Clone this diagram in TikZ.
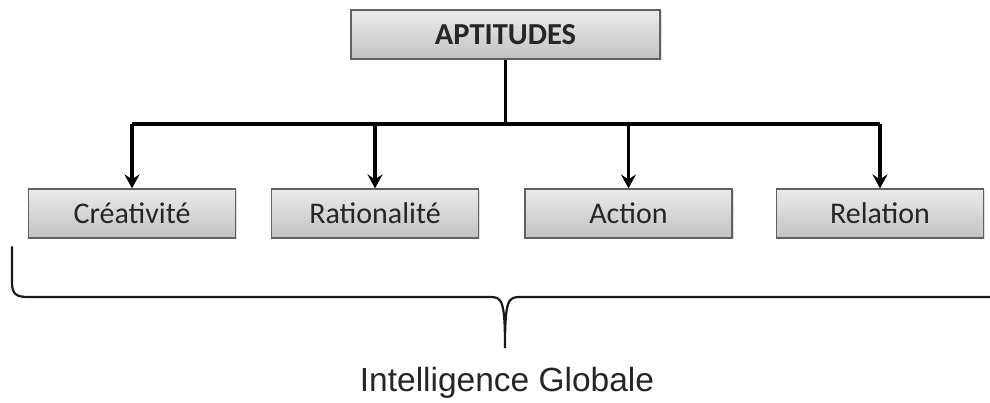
\documentclass[tikz,border=0pt]{standalone}
\usepackage{fontspec}
\setmainfont{Carlito}
\newfontfamily\arialfont{Liberation Sans}
\usetikzlibrary{arrows.meta,shadows}
\begin{document}
\begin{tikzpicture}[x=1pt,y=-1pt,
  box/.style={draw=black!62, line width=1.2pt,
    top color=black!8, bottom color=black!24,
    minimum width=207pt, minimum height=49pt, inner sep=0pt,
    drop shadow={shadow xshift=1.5pt, shadow yshift=-1.5pt, opacity=0.25},
    font=\fontsize{30}{34}\selectfont, text=black!85},
  topbox/.style={box, minimum width=309pt, font=\fontsize{30.5}{35}\selectfont\bfseries},
  link/.style={line width=3.2pt, black},
  arr/.style={link, -{Stealth[length=14pt,width=15pt,inset=5pt]}},
  brace/.style={line width=2.2pt, black!90, line cap=round}]
\useasboundingbox (0,0) rectangle (990,403);

% top node and the four aptitudes
\node[topbox] (apt) at (505.5,34.5) {APTITUDES};
\node[box] (cre) at (132,213.5) {Créativité};
\node[box] (rat) at (375,213.5) {Rationalité};
\node[box] (act) at (628.5,213.5) {Action};
\node[box] (rel) at (880,213.5) {Relation};

% tree connectors
\coordinate (bus) at (505.5,124);
\draw[link] (apt.south) -- (bus);
\draw[link] (cre.north |- bus) -- (rel.north |- bus);
\foreach \n in {cre,rat,act,rel}
  \draw[arr] (\n.north |- bus) -- (\n.north);

% brace gathering the four aptitudes
\coordinate (bl) at (12,247);
\coordinate (tip) at (505,348);
\coordinate (br) at (1000,297);
\draw[brace] (bl) -- (12,282) .. controls (12,294) and (16,297) .. (28,297)
  -- (490,297) .. controls (502,297) and (505,300) .. (tip)
  .. controls (505,300) and (508,297) .. (520,297) -- (br);

\node[font=\arialfont\fontsize{33.5}{38}\selectfont, text=black!85, anchor=base] (ig) at (507,391) {Intelligence Globale};
\end{tikzpicture}
\end{document}
